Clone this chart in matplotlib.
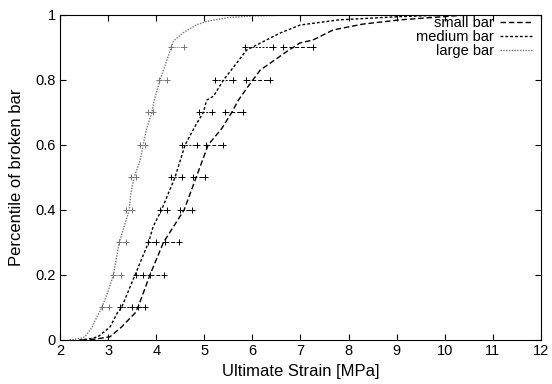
import matplotlib
matplotlib.use('Agg')
import matplotlib.pyplot as plt

plt.rcParams['font.family'] = ['Liberation Sans', 'DejaVu Sans']

small_x = [2.45, 2.75, 3.04, 3.28, 3.56, 3.62, 3.87, 4.15, 4.58, 4.83, 5.08, 5.36, 5.57, 5.71,
           5.88, 6.16, 6.71, 6.99, 7.26, 7.68, 8.3, 9.07, 10.45, 12.0]
small_y = [0.0, 0.003, 0.01, 0.04, 0.083, 0.1, 0.2, 0.3, 0.4, 0.5, 0.6, 0.65, 0.7, 0.738,
           0.774, 0.83, 0.887, 0.914, 0.923, 0.954, 0.972, 0.985, 1.0, 1.0]

medium_x = [2.4, 2.6, 2.79, 3.04, 3.19, 3.28, 3.56, 3.84, 3.94, 4.11, 4.39, 4.6, 4.81, 4.98,
            5.05, 5.19, 5.4, 5.88, 6.57, 6.99, 7.8, 9.07, 10.1, 12.0]
medium_y = [0.0, 0.003, 0.01, 0.04, 0.083, 0.1, 0.2, 0.3, 0.35, 0.4, 0.5, 0.6, 0.658, 0.7,
            0.738, 0.75, 0.8, 0.892, 0.944, 0.969, 0.985, 0.995, 1.0, 1.0]

large_x = [2.2, 2.42, 2.52, 2.67, 2.73, 2.87, 3.0, 3.11, 3.23, 3.44, 3.47, 3.54, 3.66, 3.73,
           3.8, 3.91, 3.96, 4.08, 4.22, 4.36, 4.56, 4.84, 5.1, 5.5, 6.0, 6.8, 12.0]
large_y = [0.0, 0.005, 0.01, 0.04, 0.06, 0.1, 0.15, 0.2, 0.3, 0.4, 0.45, 0.5, 0.55, 0.6,
           0.65, 0.7, 0.738, 0.8, 0.86, 0.92, 0.945, 0.97, 0.982, 0.992, 0.997, 1.0, 1.0]

# horizontal error bars at each percentile level
levels = [0.1, 0.2, 0.3, 0.4, 0.5, 0.6, 0.7, 0.8, 0.9]
small_lo = [3.62, 3.87, 4.18, 4.49, 4.77, 5.04, 5.43, 5.87, 6.63]
small_hi = [3.77, 4.16, 4.47, 4.75, 5.01, 5.39, 5.80, 6.37, 7.25]
medium_lo = [3.25, 3.57, 3.84, 4.08, 4.31, 4.54, 4.88, 5.22, 5.85]
medium_hi = [3.50, 3.73, 3.99, 4.22, 4.54, 4.84, 5.17, 5.60, 6.42]
large_lo = [2.87, 3.11, 3.23, 3.37, 3.47, 3.66, 3.82, 4.06, 4.30]
large_hi = [3.02, 3.27, 3.37, 3.49, 3.57, 3.76, 3.94, 4.23, 4.58]

series = [
    ('small bar', small_x, small_y, small_lo, small_hi, (0, (4, 2)), 'black'),
    ('medium bar', medium_x, medium_y, medium_lo, medium_hi, (0, (2, 1.5)), 'black'),
    ('large bar', large_x, large_y, large_lo, large_hi, (0, (1, 1)), '#777777'),
]

fig = plt.figure(figsize=(5.52, 3.84), dpi=100)
ax = fig.add_axes([0.1087, 0.1146, 0.8713, 0.8464])

for name, xs, ys, lo, hi, ls, col in series:
    ax.plot(xs, ys, linestyle=ls, color=col, linewidth=1.0, label=name)
    for l, a, b in zip(levels, lo, hi):
        ax.plot([a, b], [l, l], linestyle=ls, color=col, linewidth=0.7,
                marker='+', markersize=4, markeredgewidth=0.7)

ax.set_xlim(2, 12)
ax.set_ylim(0, 1)
ax.set_xticks(range(2, 13))
ax.set_yticks([0, 0.2, 0.4, 0.6, 0.8, 1])
ax.set_yticklabels(['0', '0.2', '0.4', '0.6', '0.8', '1'])
ax.tick_params(direction='in', top=True, right=True, length=4, labelsize=10.5, pad=3)
ax.set_xlabel('Ultimate Strain [MPa]', fontsize=12, labelpad=4)
ax.set_ylabel('Percentile of broken bar', fontsize=12, labelpad=8)

leg = ax.legend(loc='upper right', bbox_to_anchor=(0.993, 1.015), frameon=False,
                fontsize=10.5, markerfirst=False, handlelength=2.2, labelspacing=0.0,
                borderaxespad=0.0, handletextpad=0.4)
for t in leg.get_texts():
    t.set_ha('right')
leg._legend_box.align = 'right'

fig.savefig('out.png', dpi=100)
